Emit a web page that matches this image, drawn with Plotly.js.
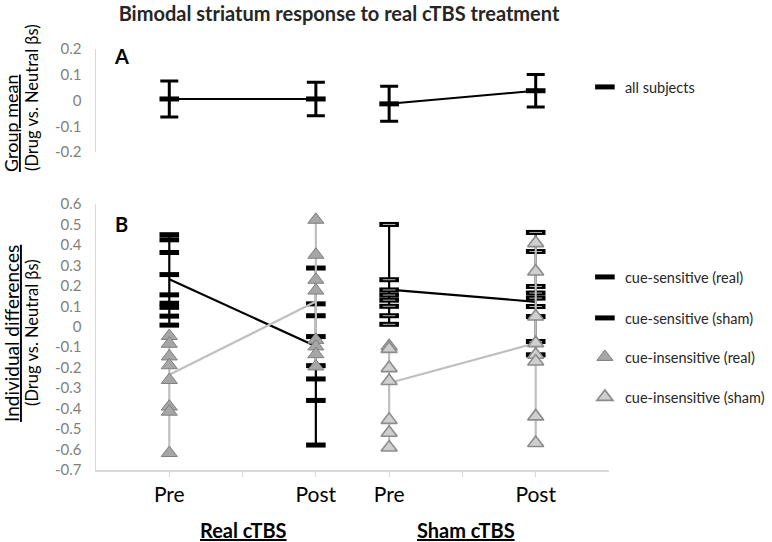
<!DOCTYPE html>
<html><head><meta charset="utf-8">
<script src="https://cdn.plot.ly/plotly-3.0.1.min.js"></script>
<style>html,body{margin:0;padding:0;background:#fff}#chart{width:772px;height:542px}</style>
</head><body><div id="chart"></div>
<script>
// category slots on the shared x axis
const slots = ['Real Pre', 'gap1', 'Real Post', 'Sham Pre', 'gap2', 'Sham Post'];
const slotLabels = ['Pre', '', 'Post', 'Pre', '', 'Post'];

// Panel A: group means (all subjects)
const meanSlots = ['Real Pre', 'Real Post', 'Sham Pre', 'Sham Post'];
const groupMean = [0.006, 0.006, -0.013, 0.038];
const groupErr = [0.07, 0.065, 0.068, 0.063];

// Panel B: individual subjects
const realSensPre = [0.45, 0.425, 0.363, 0.255, 0.156, 0.115, 0.095, 0.052, 0.008];
const realSensPost = [0.287, 0.112, 0.054, -0.048, -0.19, -0.255, -0.36, -0.578];
const shamSensPre = [0.5, 0.23, 0.18, 0.155, 0.13, 0.1, 0.054, 0.012];
const shamSensPost = [0.461, 0.368, 0.197, 0.165, 0.14, 0.099, 0.05, -0.072, -0.137];
const realInsPre = [-0.045, -0.083, -0.145, -0.188, -0.26, -0.39, -0.415, -0.617];
const realInsPost = [0.523, 0.352, 0.23, 0.177, -0.064, -0.096, -0.134, -0.194];
const shamInsPre = [-0.095, -0.108, -0.202, -0.265, -0.455, -0.518, -0.59];
const shamInsPost = [0.409, 0.27, 0.05, -0.08, -0.137, -0.17, -0.438, -0.568];

// Panel B: subgroup means (pre, post)
const realSensMean = [0.232, -0.095];
const shamSensMean = [0.182, 0.122];
const realInsMean = [-0.235, 0.124];
const shamInsMean = [-0.275, -0.08];

// tick labels
const yTicksA = [-0.2, -0.1, 0, 0.1, 0.2];
const yTickTextA = ['-0.2', '-0.1', '0', '0.1', '0.2'];
const yTicksB = [-0.7, -0.6, -0.5, -0.4, -0.3, -0.2, -0.1, 0, 0.1, 0.2, 0.3, 0.4, 0.5, 0.6];
const yTickTextB = ['-0.7', '-0.6', '-0.5', '-0.4', '-0.3', '-0.2', '-0.1', '0', '0.1', '0.2', '0.3', '0.4', '0.5', '0.6'];

const FONT = 'Lato, "Open Sans", sans-serif';
const BLACK = '#000000';
const GREY_LINE = '#bfbfbf';
const GREY_FILL = '#a6a6a6';

function column(preSlot, preVals, postSlot, postVals) {
  const x = [], y = [];
  preVals.forEach(v => { x.push(preSlot); y.push(v); });
  x.push(preSlot); y.push(null);
  postVals.forEach(v => { x.push(postSlot); y.push(v); });
  return { x, y };
}

const rs = column('Real Pre', realSensPre, 'Real Post', realSensPost);
const ss = column('Sham Pre', shamSensPre, 'Sham Post', shamSensPost);
const ri = column('Real Pre', realInsPre, 'Real Post', realInsPost);
const si = column('Sham Pre', shamInsPre, 'Sham Post', shamInsPost);

const barMarker = { symbol: 'line-ew', size: 14, color: BLACK, line: { color: BLACK, width: 5 } };

const traces = [
  // Panel A
  { x: meanSlots.slice(0, 2), y: groupMean.slice(0, 2), xaxis: 'x2', yaxis: 'y2', mode: 'lines',
    line: { color: BLACK, width: 2 }, showlegend: false, hoverinfo: 'skip' },
  { x: meanSlots.slice(2, 4), y: groupMean.slice(2, 4), xaxis: 'x2', yaxis: 'y2', mode: 'lines',
    line: { color: BLACK, width: 2 }, showlegend: false, hoverinfo: 'skip' },
  { x: meanSlots, y: groupMean, xaxis: 'x2', yaxis: 'y2', mode: 'markers', name: 'all subjects',
    error_y: { type: 'data', array: groupErr, visible: true, color: BLACK, thickness: 3, width: 9 },
    marker: barMarker, legend: 'legend' },

  // Panel B - cue-sensitive columns
  { x: rs.x, y: rs.y, mode: 'lines', line: { color: BLACK, width: 2.2 }, showlegend: false, hoverinfo: 'skip' },
  { x: ss.x, y: ss.y, mode: 'lines', line: { color: BLACK, width: 2.2 }, showlegend: false, hoverinfo: 'skip' },
  { x: ['Real Pre', 'Real Post'], y: realSensMean, mode: 'lines', line: { color: BLACK, width: 2.2 }, showlegend: false, hoverinfo: 'skip' },
  { x: ['Sham Pre', 'Sham Post'], y: shamSensMean, mode: 'lines', line: { color: BLACK, width: 2.2 }, showlegend: false, hoverinfo: 'skip' },
  { x: rs.x, y: rs.y, mode: 'markers', name: 'cue-sensitive (real)', marker: barMarker, legend: 'legend2' },
  { x: ss.x, y: ss.y, mode: 'markers', name: 'cue-sensitive (sham)', marker: barMarker, legend: 'legend3' },
  { x: ss.x, y: ss.y, mode: 'markers', showlegend: false, hoverinfo: 'skip',
    marker: { symbol: 'line-ew', size: 9, color: '#b0b0b0', line: { color: '#b0b0b0', width: 1 } } },

  // Panel B - cue-insensitive columns
  { x: ri.x, y: ri.y, mode: 'lines', line: { color: GREY_LINE, width: 2.2 }, showlegend: false, hoverinfo: 'skip' },
  { x: si.x, y: si.y, mode: 'lines', line: { color: GREY_LINE, width: 2.2 }, showlegend: false, hoverinfo: 'skip' },
  { x: ['Real Pre', 'Real Post'], y: realInsMean, mode: 'lines', line: { color: GREY_LINE, width: 2.2 }, showlegend: false, hoverinfo: 'skip' },
  { x: ['Sham Pre', 'Sham Post'], y: shamInsMean, mode: 'lines', line: { color: GREY_LINE, width: 2.2 }, showlegend: false, hoverinfo: 'skip' },
  { x: ri.x, y: ri.y, mode: 'markers', name: 'cue-insensitive (real)', legend: 'legend4',
    marker: { symbol: 'triangle-up', size: 14, color: GREY_FILL, line: { color: '#7f7f7f', width: 1 } } },
  { x: si.x, y: si.y, mode: 'markers', name: 'cue-insensitive (sham)', legend: 'legend5',
    marker: { symbol: 'triangle-up', size: 14, color: '#cfcfcf', line: { color: '#8c8c8c', width: 1.6 } } }
];

const axisFont = { family: FONT, size: 15, color: '#7f7f7f' };
const legendBase = { xref: 'paper', yref: 'paper', x: 0.953, xanchor: 'left', yanchor: 'middle',
  bgcolor: 'rgba(0,0,0,0)', font: { family: FONT, size: 14.5, color: '#262626' } };
function py(pix) { return (470 - pix) / 421; }
function px(pix) { return (pix - 96) / 513; }

function ann(text, x, y, size, extra) {
  return Object.assign({ text: text, xref: 'paper', yref: 'paper', x: px(x), y: py(y), showarrow: false,
    xanchor: 'center', yanchor: 'middle', font: { family: FONT, size: size, color: '#000' } }, extra || {});
}

const layout = {
  width: 772, height: 542,
  margin: { l: 96, r: 163, t: 49, b: 72, autoexpand: false },
  paper_bgcolor: '#ffffff', plot_bgcolor: '#ffffff',
  font: { family: FONT },
  title: { text: '<b>Bimodal striatum response to real cTBS treatment</b>', xref: 'container', yref: 'container',
    x: 339 / 772, xanchor: 'center', y: 1 - 14 / 542, yanchor: 'middle',
    font: { family: FONT, size: 20, color: '#262626' } },
  xaxis: { type: 'category', categoryarray: slots, categoryorder: 'array', range: [-1, 6],
    tickvals: slots, ticktext: slotLabels, ticks: 'outside', ticklen: 5, tickcolor: '#d9d9d9',
    showline: true, linecolor: '#d9d9d9', linewidth: 1.5, showgrid: false, zeroline: false,
    tickfont: { family: FONT, size: 21, color: '#000000' }, ticklabelstandoff: 0, anchor: 'y' },
  yaxis: { domain: [0, 266 / 421], range: [-0.7, 0.6], tickvals: yTicksB, ticktext: yTickTextB,
    showline: true, linecolor: '#d9d9d9', linewidth: 1.5, showgrid: false, zeroline: false, ticks: '',
    tickfont: axisFont, ticklabelstandoff: 10, anchor: 'x' },
  xaxis2: { type: 'category', categoryarray: slots, categoryorder: 'array', range: [-1, 6],
    visible: false, anchor: 'y2' },
  yaxis2: { domain: [318 / 421, 1], range: [-0.2, 0.2], tickvals: yTicksA, ticktext: yTickTextA,
    showline: true, linecolor: '#d9d9d9', linewidth: 1.5, showgrid: false, zeroline: false, ticks: '',
    tickfont: axisFont, ticklabelstandoff: 10, anchor: 'x2' },
  legend: Object.assign({}, legendBase, { y: py(87) }),
  legend2: Object.assign({}, legendBase, { y: py(277) }),
  legend3: Object.assign({}, legendBase, { y: py(318) }),
  legend4: Object.assign({}, legendBase, { y: py(357) }),
  legend5: Object.assign({}, legendBase, { y: py(397) }),
  annotations: [
    ann('<b>A</b>', 121, 56, 20),
    ann('<b>B</b>', 121, 224, 20),
    ann('<b><u>Real cTBS</u></b>', 243, 530, 20),
    ann('<b><u>Sham cTBS</u></b>', 466, 530, 20),
    ann('<u>Group mean</u>', 11, 124, 18, { textangle: -90 }),
    ann('(Drug vs. Neutral βs)', 32, 98, 16.5, { textangle: -90 }),
    ann('<u>Individual differences</u>', 11, 334, 19, { textangle: -90 }),
    ann('(Drug vs. Neutral βs)', 32, 333, 16.5, { textangle: -90 })
  ]
};

Plotly.newPlot('chart', traces, layout, { displayModeBar: false, staticPlot: true });
</script>
</body></html>
